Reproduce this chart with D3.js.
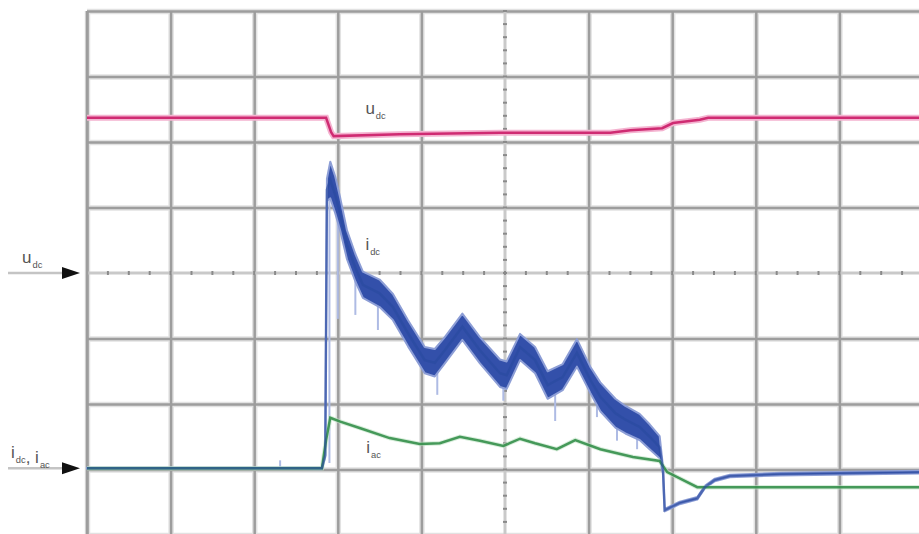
<!DOCTYPE html>
<html>
<head>
<meta charset="utf-8">
<script src="https://cdn.jsdelivr.net/npm/d3@7"></script>
<style>
	body { margin: 0; background: #fff; }
	svg { display: block; font-family: "Liberation Sans", Arial, sans-serif; }
</style>
</head>
<body>
<div id="scope"></div>
<script>
//Data
// time: 10 units per division, values: divisions counted from the bottom of the screen

const gridTime = [0, 10, 20, 30, 40, 50, 60, 70, 80, 90, 100]
const gridLevel = [0, 1, 2, 3, 4, 5, 6, 7, 8]

// u_dc (magenta)
const uDcTime = [0, 28.6, 29.2, 29.5, 37.4, 49.4, 62.6, 65.0, 68.8, 70.1, 73.3, 74.3, 100]
const uDcValue = [6.37, 6.37, 6.15, 6.09, 6.12, 6.14, 6.14, 6.18, 6.21, 6.29, 6.34, 6.37, 6.37]

// i_dc (blue) centre and half width of its ripple band
const iDcTime = [0, 23.1, 28.1, 28.5, 28.7, 29.1, 29.7, 30.3, 31.1, 32.1, 33.0, 35.0, 36.6, 38.4, 40.4, 41.6,
	42.8, 44.9, 47.0, 49.4, 50.2, 51.8, 53.6, 55.1, 56.9, 58.6, 60.2, 61.4, 63.2, 64.4, 66.1, 67.3, 68.5,
	68.9, 69.1, 70.9, 73.0, 73.9, 75.1, 76.9, 82.9, 100]
const iDcValue = [1.02, 1.02, 1.02, 1.22, 5.27, 5.42, 5.19, 4.89, 4.43, 4.08, 3.82, 3.69, 3.48, 3.08, 2.67, 2.63,
	2.82, 3.18, 2.82, 2.47, 2.44, 2.87, 2.67, 2.29, 2.41, 2.78, 2.37, 2.11, 1.86, 1.76, 1.65, 1.50, 1.34,
	0.99, 0.38, 0.49, 0.56, 0.73, 0.84, 0.90, 0.93, 0.96]
const iDcRipple = [0.01, 0.01, 0.015, 0.03, 0.17, 0.28, 0.28, 0.25, 0.22, 0.21, 0.2, 0.21, 0.2, 0.2, 0.2, 0.21,
	0.2, 0.2, 0.2, 0.21, 0.21, 0.2, 0.2, 0.21, 0.2, 0.21, 0.2, 0.22, 0.22, 0.21, 0.2, 0.19, 0.17,
	0.05, 0.02, 0.02, 0.02, 0.02, 0.02, 0.02, 0.02, 0.02]

// short downward spikes on i_dc
const glitchTime = [23.1, 29.0, 30.0, 32.1, 34.8, 41.9, 49.8, 56.0, 61.0, 63.4, 65.8]
const glitchTop = [1.02, 5.40, 4.90, 4.08, 3.74, 2.63, 2.44, 2.29, 2.14, 1.83, 1.68]
const glitchBottom = [1.14, 1.10, 3.30, 3.36, 3.13, 2.14, 2.05, 1.74, 1.80, 1.44, 1.31]

// i_ac (green)
const iAcTime = [0, 28.1, 28.6, 29.1, 30.3, 32.7, 36.2, 39.8, 42.2, 44.6, 47.0, 49.8, 51.8, 53.6, 56.2, 58.4,
	61.4, 65.3, 68.5, 69.4, 73.0, 100]
const iAcValue = [1.02, 1.02, 1.45, 1.79, 1.73, 1.63, 1.48, 1.39, 1.40, 1.50, 1.44, 1.36, 1.47, 1.40, 1.31, 1.45,
	1.31, 1.19, 1.13, 0.96, 0.73, 0.73]

// trace names written next to the traces
const traceLabels = [
	{ name: "u", sub: "dc", t: 33.3, v: 6.42 },
	{ name: "i", sub: "dc", t: 33.3, v: 4.35 },
	{ name: "i", sub: "ac", t: 33.4, v: 1.25 }
]

// channel reference markers on the left
const channelMarkers = [
	{ level: 4, parts: [["u", "dc"]] },
	{ level: 1.02, parts: [["i", "dc"], [", i", "ac"]] }
]

let store = {}

/**
 * Sets the size of the screen
 */
function makeConfig(store) {
	store.dimensions = {
		width: 919,
		height: 534,
		margin: { top: 11, left: 87, right: -4, bottom: -1 }
	}
	return store
}

/**
 * Builds the point lists from the arrays
 */
function loadData(store) {
	store.uDc = uDcTime.map((t, i) => ({ t: t, v: uDcValue[i] }))
	store.iDc = iDcTime.map((t, i) => ({ t: t, v: iDcValue[i], r: iDcRipple[i] }))
	store.iAc = iAcTime.map((t, i) => ({ t: t, v: iAcValue[i] }))
	store.glitches = glitchTime.map((t, i) => ({ t: t, top: glitchTop[i], bottom: glitchBottom[i] }))
	return store
}

function addLabel(g, x, y, parts, size) {
	const text = g.append('text')
		.attr('x', x)
		.attr('y', y)
		.attr('fill', '#555')
		.attr('font-size', size + 'px')
	parts.forEach((p) => {
		text.append('tspan').attr('dy', 0).text(p[0])
		text.append('tspan')
			.attr('font-size', (size * 0.55) + 'px')
			.attr('dx', 1)
			.attr('dy', 5)
			.text(p[1])
		// back to the base line for the next part
		text.append('tspan').attr('dy', -5).text('')
	})
}

function makePlot(store) {
	const dim = store.dimensions
	const svg = d3.select('#scope')
		.append('svg')
		.attr('width', dim.width)
		.attr('height', dim.height)

	const containerWidth = dim.width - dim.margin.left - dim.margin.right
	const containerHeight = dim.height - dim.margin.top - dim.margin.bottom

	const container = svg.append('g')
		.attr('transform', `translate(${dim.margin.left},${dim.margin.top})`)

	const xScale = d3.scaleLinear()
		.domain([0, 100])
		.range([0, containerWidth])

	const yScale = d3.scaleLinear()
		.domain([0, 8])
		.range([containerHeight, 0])

	// Grid from the axes, the centre lines are drawn separately
	const outerX = gridTime.filter((d) => d !== 50)
	const outerY = gridLevel.filter((d) => d !== 4)

	const gridLayers = [
		{ color: '#e2e2e2', width: 5.5 },
		{ color: '#9d9d9d', width: 2.5 }
	]
	gridLayers.forEach((layer) => {
		container.append('g')
			.call(d3.axisTop(xScale).tickValues(outerX).tickSize(-containerHeight).tickFormat(''))
			.call((g) => g.select('.domain').remove())
			.selectAll('line')
			.attr('stroke', layer.color)
			.attr('stroke-width', layer.width)
		container.append('g')
			.call(d3.axisLeft(yScale).tickValues(outerY).tickSize(-containerWidth).tickFormat(''))
			.call((g) => g.select('.domain').remove())
			.selectAll('line')
			.attr('stroke', layer.color)
			.attr('stroke-width', layer.width)
	})

	// Centre lines with their small ticks
	container.append('line')
		.attr('x1', xScale(0)).attr('x2', containerWidth + 10)
		.attr('y1', yScale(4)).attr('y2', yScale(4))
		.attr('stroke', '#c9c9c9').attr('stroke-width', 3)
	container.append('line')
		.attr('x1', xScale(50)).attr('x2', xScale(50))
		.attr('y1', 0).attr('y2', containerHeight + 5)
		.attr('stroke', '#c9c9c9').attr('stroke-width', 3)

	const minorX = d3.range(0, 100.01, 2.5)
	const minorY = d3.range(0, 8.001, 0.2)
	container.append('g').selectAll('line')
		.data(minorX)
		.join('line')
		.attr('x1', (d) => xScale(d)).attr('x2', (d) => xScale(d))
		.attr('y1', yScale(4) - 2).attr('y2', yScale(4) + 2)
		.attr('stroke', '#8a8a8a').attr('stroke-width', 2)
	container.append('g').selectAll('line')
		.data(minorY)
		.join('line')
		.attr('x1', xScale(50) - 2).attr('x2', xScale(50) + 2)
		.attr('y1', (d) => yScale(d)).attr('y2', (d) => yScale(d))
		.attr('stroke', '#8a8a8a').attr('stroke-width', 2)

	// left edge line again so it sits over the centre line start
	container.append('line')
		.attr('x1', xScale(0)).attr('x2', xScale(0))
		.attr('y1', 0).attr('y2', containerHeight)
		.attr('stroke', '#9d9d9d').attr('stroke-width', 2.5)

	const line = d3.line()
		.x((d) => xScale(d.t))
		.y((d) => yScale(d.v))

	// i_dc ripple band
	const band = d3.area()
		.x((d) => xScale(d.t))
		.y0((d) => yScale(d.v - d.r))
		.y1((d) => yScale(d.v + d.r))

	container.append('g').selectAll('line')
		.data(store.glitches)
		.join('line')
		.attr('x1', (d) => xScale(d.t)).attr('x2', (d) => xScale(d.t))
		.attr('y1', (d) => yScale(d.top)).attr('y2', (d) => yScale(d.bottom))
		.attr('stroke', '#aebbe4')
		.attr('stroke-width', 2)

	container.append('path')
		.datum(store.iDc)
		.attr('d', band)
		.attr('fill', '#3350aa')
		.attr('stroke', '#8d9ed6')
		.attr('stroke-width', 2)
		.attr('stroke-linejoin', 'round')

	// i_ac
	container.append('path')
		.datum(store.iAc)
		.attr('d', line)
		.attr('fill', 'none')
		.attr('stroke', '#bfe3c5')
		.attr('stroke-width', 4.5)
		.attr('opacity', 0.6)
	container.append('path')
		.datum(store.iAc)
		.attr('d', line)
		.attr('fill', 'none')
		.attr('stroke', '#2a8a42')
		.attr('stroke-width', 2.5)
		.attr('opacity', 0.85)

	// i_dc centre drawn over the green so the shared zero line mixes to teal
	container.append('path')
		.datum(store.iDc)
		.attr('d', line)
		.attr('fill', 'none')
		.attr('stroke', '#2a4aa0')
		.attr('stroke-width', 2.5)
		.attr('opacity', 0.65)

	// u_dc
	container.append('path')
		.datum(store.uDc)
		.attr('d', line)
		.attr('fill', 'none')
		.attr('stroke', '#f4b3d0')
		.attr('stroke-width', 6)
	container.append('path')
		.datum(store.uDc)
		.attr('d', line)
		.attr('fill', 'none')
		.attr('stroke', '#cf2b72')
		.attr('stroke-width', 2.5)

	// Trace names
	traceLabels.forEach((d) => {
		addLabel(container, xScale(d.t), yScale(d.v), [[d.name, d.sub]], 17)
	})

	// Channel markers on the left of the screen
	const markers = svg.append('g')
	channelMarkers.forEach((m) => {
		const y = dim.margin.top + yScale(m.level)
		markers.append('line')
			.attr('x1', 8).attr('x2', 64)
			.attr('y1', y).attr('y2', y)
			.attr('stroke', '#c4c4c4').attr('stroke-width', 2.5)
		markers.append('path')
			.attr('d', `M62,${y - 6}L80,${y}L62,${y + 6}Z`)
			.attr('fill', '#111')
		addLabel(markers, m.parts.length > 1 ? 11 : 22, y - 10, m.parts, 17)
	})
}

store = makeConfig(store)
store = loadData(store)
makePlot(store)
</script>
</body>
</html>
